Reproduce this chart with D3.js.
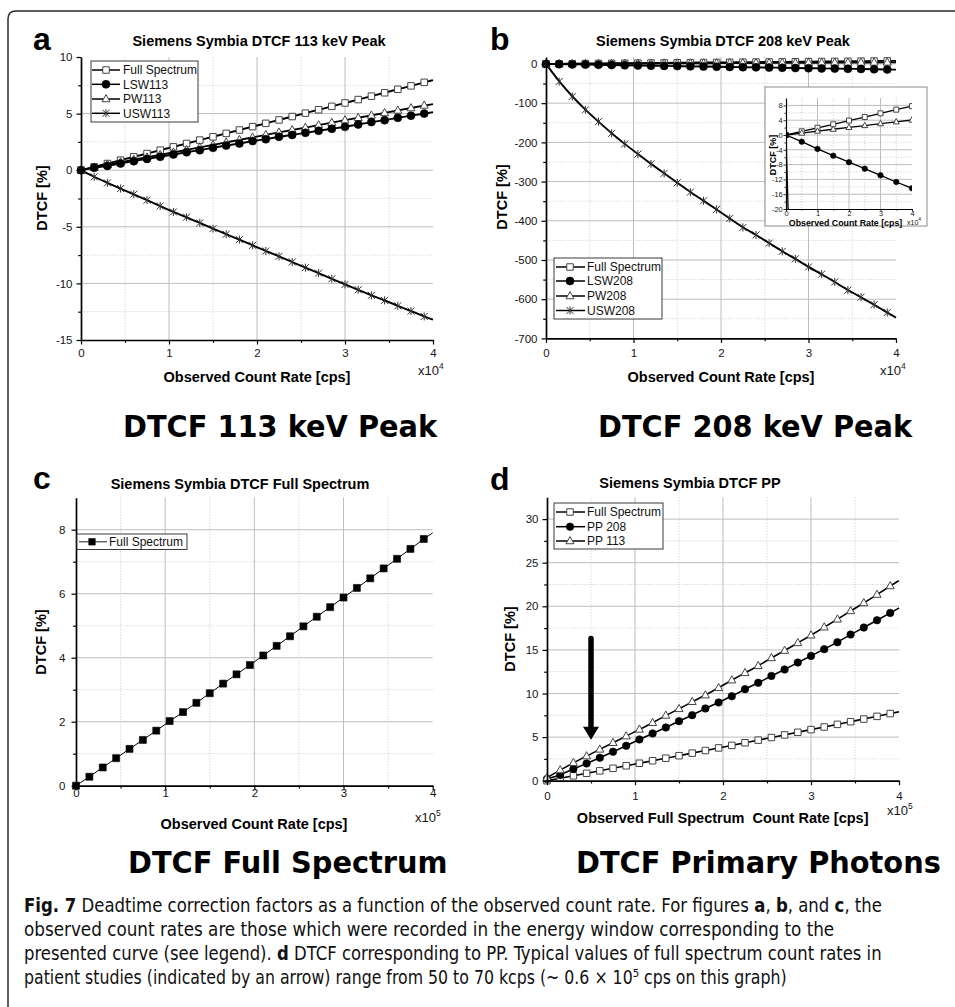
<!DOCTYPE html>
<html><head><meta charset="utf-8">
<script src="https://cdn.jsdelivr.net/npm/d3@7"></script>
<style>
body{margin:0;background:#fff}
svg{display:block}
</style>
</head><body>
<script>
// ---------------- DATA ----------------
// observed count rate (panel a,b: x10^4 cps; panel c,d: x10^5 cps)
const xObs = [0,0.15,0.3,0.45,0.6,0.75,0.9,1.05,1.2,1.35,1.5,1.65,1.8,1.95,2.1,2.25,2.4,2.55,2.7,2.85,3,3.15,3.3,3.45,3.6,3.75,3.9];
const xFitEnd = 4;

// panel a: 113 keV peak
const aFull = [0,0.3,0.59,0.89,1.18,1.47,1.77,2.06,2.36,2.66,2.95,3.25,3.55,3.85,4.14,4.44,4.74,5.04,5.34,5.64,5.94,6.24,6.54,6.84,7.15,7.45,7.76];
const aLSW  = [0,0.21,0.38,0.59,0.8,1.0,1.18,1.39,1.59,1.77,1.98,2.18,2.36,2.57,2.74,2.95,3.12,3.3,3.48,3.66,3.83,4.04,4.25,4.42,4.63,4.82,5.0];
const aPW   = [0,0.25,0.48,0.7,0.92,1.14,1.36,1.57,1.8,2.02,2.24,2.46,2.67,2.9,3.12,3.34,3.55,3.76,3.98,4.2,4.42,4.63,4.84,5.06,5.28,5.49,5.72];
const aUSW  = [0,-0.59,-1.12,-1.62,-2.12,-2.65,-3.16,-3.69,-4.15,-4.66,-5.16,-5.66,-6.13,-6.64,-7.14,-7.61,-8.11,-8.61,-9.09,-9.59,-10.09,-10.56,-11.06,-11.5,-11.98,-12.45,-12.92];
const aFitEnd = {full:7.96, lsw:5.13, pw:5.84, usw:-13.2};

// panel b: 208 keV peak
const bFull = [0,0.3,0.6,0.9,1.19,1.48,1.78,2.07,2.37,2.66,2.96,3.26,3.56,3.86,4.16,4.46,4.76,5.06,5.36,5.66,5.96,6.26,6.56,6.86,7.17,7.47,7.78];
const bLSW  = [0,-0.55,-1.1,-1.65,-2.2,-2.75,-3.3,-3.85,-4.4,-4.95,-5.5,-6.05,-6.6,-7.15,-7.65,-8.15,-8.65,-9.2,-9.7,-10.25,-10.8,-11.3,-11.85,-12.4,-12.9,-13.45,-14.0];
const bPW   = [0,0.15,0.31,0.46,0.61,0.76,0.91,1.06,1.21,1.37,1.52,1.67,1.83,1.98,2.13,2.29,2.44,2.59,2.75,2.9,3.05,3.21,3.36,3.52,3.67,3.83,3.98];
const bUSW  = [0,-45,-83,-117,-147,-177,-204,-230,-255,-279,-303,-327,-349,-371,-394,-417,-436,-457,-478,-497,-518,-536,-556,-577,-595,-614,-634];
const bFitEnd = {full:7.98, lsw:-14.4, pw:4.08, usw:-647};

// panel b inset
const xInset = [0,0.5,1,1.5,2,2.5,3,3.5,4];
const inFull = [0,1.0,1.95,2.9,3.9,4.85,5.85,6.85,7.8];
const inPW   = [0,0.5,1.05,1.55,2.05,2.55,3.05,3.55,4.05];
const inLSW  = [0,-1.8,-3.75,-5.6,-7.35,-9.1,-10.9,-12.7,-14.4];

// panel c: full spectrum
const cFull = [0,0.28,0.57,0.86,1.15,1.43,1.72,2.02,2.3,2.59,2.89,3.19,3.48,3.77,4.07,4.37,4.67,4.98,5.28,5.58,5.88,6.18,6.48,6.79,7.09,7.4,7.71];
const cFitEnd = 7.9;

// panel d: primary photons
const dFull  = [0,0.27,0.56,0.85,1.13,1.42,1.71,2.0,2.29,2.58,2.87,3.16,3.46,3.76,4.05,4.35,4.65,4.95,5.25,5.55,5.86,6.16,6.46,6.77,7.07,7.38,7.7];
const dPP208 = [0.2,0.65,1.34,1.98,2.63,3.32,4.0,4.73,5.42,6.1,6.83,7.52,8.28,8.97,9.69,10.5,11.22,12.02,12.75,13.55,14.31,15.08,15.88,16.76,17.56,18.4,19.24];
const dPP113 = [0.35,1.22,2.06,2.82,3.59,4.35,5.11,5.88,6.64,7.48,8.24,9.05,9.81,10.65,11.53,12.37,13.17,14.08,14.92,15.8,16.68,17.6,18.51,19.47,20.38,21.34,22.33];
const dFitEnd = {full:7.9, pp208:19.8, pp113:22.94};
const dArrow = {x:0.5, from:16.3, to:4.7};

// tick values
const ticks4 = [0,1,2,3,4], minor4 = [0.5,1.5,2.5,3.5];
const aYTicks = [-15,-10,-5,0,5,10], aYMinor = [-12.5,-7.5,-2.5,2.5,7.5];
const bYTicks = [-700,-600,-500,-400,-300,-200,-100,0], bYMinor = [-650,-550,-450,-350,-250,-150,-50];
const cYTicks = [0,2,4,6,8], cYMinor = [1,3,5,7];
const dYTicks = [0,5,10,15,20,25,30], dYMinor = [2.5,7.5,12.5,17.5,22.5,27.5];
const inYTicks = [-20,-16,-12,-8,-4,0,4,8], inYMinor = [-18,-14,-10,-6,-2,2,6];

// ---------------- DRAWING ----------------
const FONT = '"Liberation Sans", Arial, Helvetica, sans-serif';
const svg = d3.select('body').append('svg').attr('width',955).attr('height',1007);

// frame
svg.append('path').attr('d','M8,1007V19Q8,11 16,11H955').attr('fill','none').attr('stroke','#2a2a2a').attr('stroke-width',1.5);

function markerPath(type, s){
  const h = s/2;
  switch(type){
    case 'square': case 'squareFilled': return `M${-h},${-h}H${h}V${h}H${-h}Z`;
    case 'circle': return `M${-h},0A${h},${h} 0 1,0 ${h},0A${h},${h} 0 1,0 ${-h},0Z`;
    case 'triangle': { const t = s*0.9; return `M0,${-t*0.62}L${h},${t*0.38}L${-h},${t*0.38}Z`; }
    case 'star': return `M${-h},${-h}L${h},${h}M${-h},${h}L${h},${-h}M0,${-h*1.15}V${h*1.15}`;
  }
}
function markerStyle(sel, type){
  if(type==='square'||type==='triangle') sel.attr('fill','#fff').attr('stroke','#444').attr('stroke-width',1);
  else if(type==='circle'||type==='squareFilled') sel.attr('fill','#000').attr('stroke','#000').attr('stroke-width',0.6);
  else sel.attr('fill','none').attr('stroke','#333').attr('stroke-width',1);
}

function drawPanel(p){
  const g = svg.append('g');
  const x = d3.scaleLinear().domain(p.xDomain).range([p.left,p.right]);
  const y = d3.scaleLinear().domain(p.yDomain).range([p.bottom,p.top]);
  if(p.box){
    g.append('rect').attr('x',p.box[0]).attr('y',p.box[1]).attr('width',p.box[2]).attr('height',p.box[3])
      .attr('fill','#fff').attr('stroke','#8c8c8c').attr('stroke-width',1);
  }
  const grid = g.append('g');
  const minorStyle = s => s.attr('stroke','#cfcfcf').attr('stroke-width',0.9).attr('stroke-dasharray','1.2,1.6');
  const majorStyle = s => s.attr('stroke','#bdbdbd').attr('stroke-width',1);
  grid.selectAll(null).data(p.xMinorGrid).join('line')
    .attr('x1',d=>x(d)).attr('x2',d=>x(d)).attr('y1',p.top).attr('y2',p.bottom).call(minorStyle);
  grid.selectAll(null).data(p.yMinorGrid).join('line')
    .attr('y1',d=>y(d)).attr('y2',d=>y(d)).attr('x1',p.left).attr('x2',p.right).call(minorStyle);
  grid.selectAll(null).data(p.xGrid).join('line')
    .attr('x1',d=>x(d)).attr('x2',d=>x(d)).attr('y1',p.top).attr('y2',p.bottom).call(majorStyle);
  grid.selectAll(null).data(p.yGrid).join('line')
    .attr('y1',d=>y(d)).attr('y2',d=>y(d)).attr('x1',p.left).attr('x2',p.right).call(majorStyle);

  // clip
  const cid = 'clip'+p.id;
  g.append('clipPath').attr('id',cid).append('rect')
    .attr('x',p.left).attr('y',p.top).attr('width',p.right-p.left).attr('height',p.bottom-p.top);
  const dg = g.append('g').attr('clip-path', p.clip ? `url(#${cid})` : null);

  const line = d3.line().x(d=>x(d[0])).y(d=>y(d[1])).curve(p.curve||d3.curveBasis);
  p.series.forEach(s=>{
    const pts = s.x.map((xv,i)=>[xv,s.y[i]]);
    if(s.end!=null) pts.push([xFitEnd, s.end]);
    dg.append('path').attr('d',line(pts)).attr('fill','none').attr('stroke','#000').attr('stroke-width',p.lineW);
  });
  p.series.forEach(s=>{
    if(!s.marker) return;
    dg.append('g').selectAll('path').data(s.x.map((xv,i)=>[xv,s.y[i]])).join('path')
      .attr('transform',d=>`translate(${x(d[0])},${y(d[1])})`)
      .attr('d',markerPath(s.marker,s.size)).call(markerStyle,s.marker);
  });

  // axes
  const fmt = d => String(d);
  const ax = g.append('g').attr('transform',`translate(0,${p.bottom})`)
    .call(d3.axisBottom(x).tickValues(p.xTicks).tickSize(p.tick).tickSizeOuter(0).tickPadding(p.xPad).tickFormat(fmt));
  const axm = g.append('g').attr('transform',`translate(0,${p.bottom})`)
    .call(d3.axisBottom(x).tickValues(p.xMinor).tickSize(p.tickMinor).tickSizeOuter(0).tickFormat(''));
  const ay = g.append('g').attr('transform',`translate(${p.left},0)`)
    .call(d3.axisLeft(y).tickValues(p.yTicks).tickSize(p.tick).tickSizeOuter(0).tickPadding(p.yPad).tickFormat(fmt));
  const aym = g.append('g').attr('transform',`translate(${p.left},0)`)
    .call(d3.axisLeft(y).tickValues(p.yMinor).tickSize(p.tickMinor).tickSizeOuter(0).tickFormat(''));
  [ax,axm,ay,aym].forEach(a=>{
    a.attr('font-family',FONT).attr('font-size',p.tickFont);
    a.select('.domain').attr('stroke','#000').attr('stroke-width',p.axisW);
    a.selectAll('.tick line').attr('stroke','#000').attr('stroke-width',p.tickW);
    a.selectAll('.tick text').attr('fill','#151515');
  });
  [axm,aym].forEach(a=>a.select('.domain').remove());
  return {x,y,g};
}

function drawLegend(L){
  const g = svg.append('g');
  g.append('rect').attr('x',L.box[0]).attr('y',L.box[1]).attr('width',L.box[2]).attr('height',L.box[3])
    .attr('fill','#fff').attr('stroke','#3a3a3a').attr('stroke-width',1);
  L.items.forEach((it,i)=>{
    const yy = L.rows[i];
    g.append('line').attr('x1',L.lx1).attr('x2',L.lx2).attr('y1',yy).attr('y2',yy)
      .attr('stroke','#000').attr('stroke-width',L.lineW);
    g.append('path').attr('transform',`translate(${L.mx},${yy})`).attr('d',markerPath(it.marker,it.size)).call(markerStyle,it.marker);
    g.append('text').attr('x',L.tx).attr('y',yy).attr('dy','0.36em').attr('font-family',FONT)
      .attr('font-size',L.font).attr('fill','#111').text(it.label);
  });
}

function text(x,y,str,opt){
  const t = svg.append('text').attr('x',x).attr('y',y).attr('font-family',opt.family||FONT)
    .attr('font-size',opt.size).attr('font-weight',opt.weight||'normal').attr('fill',opt.fill||'#000')
    .attr('text-anchor',opt.anchor||'start').style('white-space','pre').text(str);
  if(opt.rotate) t.attr('transform',`rotate(-90,${x},${y})`);
  return t;
}
function x10(x,y,exp,size,sup){
  const t = svg.append('text').attr('x',x).attr('y',y).attr('font-family',FONT).attr('font-size',size).attr('fill','#151515');
  t.append('tspan').text('x10');
  t.append('tspan').attr('dy',-size*0.45).attr('font-size',sup).text(exp);
}

const common = {xDomain:[0,4], xTicks:ticks4, xMinor:minor4, xGrid:[1,2,3], xMinorGrid:minor4,
  tick:4.5, tickMinor:2.8, tickFont:11.5, axisW:1.7, tickW:1.2, yPad:4};

// ---- panel a ----
drawPanel(Object.assign({}, common, {id:'a', left:81, right:433, top:57, bottom:340, yDomain:[-15,10],
  yTicks:aYTicks, yMinor:aYMinor, yGrid:[-10,-5,0,5], yMinorGrid:aYMinor, xPad:4.4, lineW:1.9,
  series:[
    {x:xObs, y:aFull, end:aFitEnd.full, marker:'square', size:6.5},
    {x:xObs, y:aPW, end:aFitEnd.pw, marker:'triangle', size:8},
    {x:xObs, y:aLSW, end:aFitEnd.lsw, marker:'circle', size:8},
    {x:xObs, y:aUSW, end:aFitEnd.usw, marker:'star', size:7}
  ]}));
drawLegend({box:[91,61,107,61], rows:[70,84.3,99,113.3], lx1:92, lx2:120, mx:106, tx:123, font:12, lineW:1.5,
  items:[{label:'Full Spectrum',marker:'square',size:6.5},{label:'LSW113',marker:'circle',size:8},
         {label:'PW113',marker:'triangle',size:8},{label:'USW113',marker:'star',size:7}]});

// ---- panel b ----
drawPanel(Object.assign({}, common, {id:'b', left:546, right:896, top:56.9, bottom:338.4, yDomain:[-700,18],
  yTicks:bYTicks, yMinor:bYMinor, yGrid:[-600,-500,-400,-300,-200,-100,0], yMinorGrid:bYMinor, xPad:6, lineW:1.9,
  series:[
    {x:xObs, y:bFull, end:bFitEnd.full, marker:'square', size:6.5},
    {x:xObs, y:bPW, end:bFitEnd.pw, marker:'triangle', size:8},
    {x:xObs, y:bLSW, end:bFitEnd.lsw, marker:'circle', size:8},
    {x:xObs, y:bUSW, end:bFitEnd.usw, marker:'star', size:7}
  ]}));
drawLegend({box:[554,258,108,61], rows:[267,281,296,310.5], lx1:556, lx2:585, mx:570, tx:587, font:12, lineW:1.5,
  items:[{label:'Full Spectrum',marker:'square',size:6.5},{label:'LSW208',marker:'circle',size:8},
         {label:'PW208',marker:'triangle',size:8},{label:'USW208',marker:'star',size:7}]});

// inset
drawPanel({id:'in', box:[765,87,162,139], left:786, right:912, top:98, bottom:209, xDomain:[0,4], yDomain:[-20,10],
  xTicks:ticks4, xMinor:minor4, xGrid:[1,2,3], xMinorGrid:minor4,
  yTicks:inYTicks, yMinor:inYMinor, yGrid:[-16,-12,-8,-4,0,4,8], yMinorGrid:inYMinor,
  tick:2.5, tickMinor:1.6, tickFont:7.4, axisW:1.2, tickW:0.8, xPad:-1, yPad:0.8, lineW:1.3,
  clip:true, curve:d3.curveLinear,
  series:[
    {x:xObs, y:bUSW, end:bFitEnd.usw, marker:null},
    {x:xInset, y:inFull, marker:'square', size:5},
    {x:xInset, y:inPW, marker:'triangle', size:6},
    {x:xInset, y:inLSW, marker:'circle', size:5.5}
  ]});
text(845.5,226,'Observed Count Rate [cps]',{size:8.8,weight:'bold',anchor:'middle'});
x10(907,224.5,'4',7,5);
text(775.5,155,'DTCF [%]',{size:9,weight:'bold',anchor:'middle',rotate:true});

// ---- panel c ----
drawPanel(Object.assign({}, common, {id:'c', left:76, right:432.7, top:497.7, bottom:785.7, yDomain:[0,9],
  yTicks:cYTicks, yMinor:cYMinor, yGrid:[2,4,6,8], yMinorGrid:cYMinor, xPad:-1.4, yPad:6, lineW:1,
  series:[{x:xObs, y:cFull, end:cFitEnd, marker:'squareFilled', size:7}]}));
drawLegend({box:[77,534,110,15.5], rows:[541.8], lx1:79, lx2:107, mx:92, tx:109, font:12, lineW:0.9,
  items:[{label:'Full Spectrum',marker:'squareFilled',size:6.5}]});

// ---- panel d ----
const pd = drawPanel(Object.assign({}, common, {id:'d', left:547, right:899, top:497.3, bottom:780.7, yDomain:[0,32.5],
  yTicks:dYTicks, yMinor:dYMinor, yGrid:[5,10,15,20,25,30], yMinorGrid:dYMinor, xPad:6.6, lineW:1.6,
  series:[
    {x:xObs, y:dFull, end:dFitEnd.full, marker:'square', size:6.5},
    {x:xObs, y:dPP208, end:dFitEnd.pp208, marker:'circle', size:7.5},
    {x:xObs, y:dPP113, end:dFitEnd.pp113, marker:'triangle', size:8}
  ]}));
drawLegend({box:[554,503,109,46], rows:[512,526.7,541], lx1:556, lx2:585, mx:570, tx:587, font:12, lineW:1.5,
  items:[{label:'Full Spectrum',marker:'square',size:6.5},{label:'PP 208',marker:'circle',size:7.5},
         {label:'PP 113',marker:'triangle',size:8}]});
// arrow
{
  const ax = pd.x(dArrow.x), yTop = pd.y(dArrow.from), yTip = pd.y(dArrow.to);
  svg.append('line').attr('x1',ax).attr('x2',ax).attr('y1',yTop).attr('y2',yTip-11)
    .attr('stroke','#000').attr('stroke-width',5.5).attr('stroke-linecap','round');
  svg.append('path').attr('d',`M${ax-8},${yTip-13}L${ax+8},${yTip-13}L${ax},${yTip}Z`).attr('fill','#000');
}

// ---- titles & labels ----
const titleOpt = {size:14.5, weight:'bold', anchor:'middle'};
text(259,46,'Siemens Symbia DTCF 113 keV Peak',titleOpt);
text(723,46,'Siemens Symbia DTCF 208 keV Peak',titleOpt);
text(240,489,'Siemens Symbia DTCF Full Spectrum',titleOpt);
text(690,488,'Siemens Symbia DTCF PP',titleOpt);

const letterOpt = {size:32, weight:'bold'};
text(33,50,'a',letterOpt); text(490,50,'b',letterOpt);
text(33,489,'c',letterOpt); text(490,490,'d',letterOpt);

text(257,382,'Observed Count Rate [cps]',titleOpt);
text(721,382,'Observed Count Rate [cps]',titleOpt);
text(254,829,'Observed Count Rate [cps]',titleOpt);
text(722.7,823,'Observed Full Spectrum  Count Rate [cps]',titleOpt);

const yOpt = {size:14.5, weight:'bold', anchor:'middle', rotate:true};
text(47,198,'DTCF [%]',yOpt); text(507,197,'DTCF [%]',yOpt);
text(46,642,'DTCF [%]',yOpt); text(515,639,'DTCF [%]',yOpt);

x10(418,375,'4',13,8.5); x10(880,375,'4',13,8.5);
x10(415,822,'5',13,8.5); x10(887,815,'5',13,8.5);

// big subtitles
function big(x,y,str){
  svg.append('text').attr('transform',`translate(${x},${y}) scale(0.93,1)`)
    .attr('font-family','"DejaVu Sans", Verdana, sans-serif').attr('font-weight','bold').attr('font-size',31)
    .attr('fill','#000').text(str);
}
big(123,437,'DTCF 113 keV Peak'); big(598,437,'DTCF 208 keV Peak');
big(128,873,'DTCF Full Spectrum'); big(576,873,'DTCF Primary Photons');

// caption: each line is a row of text pieces, squeezed horizontally to its width
const capFont = '"Liberation Sans Narrow", "DejaVu Sans Condensed", "Liberation Sans", sans-serif';
const capLines = [
  {y:912, w:858, parts:[['Fig. 7',true],[' Deadtime correction factors as a function of the observed count rate. For figures ',false],['a',true],[', ',false],['b',true],[', and ',false],['c',true],[', the',false]]},
  {y:936, w:811, parts:[['observed count rates are those which were recorded in the energy window corresponding to the',false]]},
  {y:960, w:858, parts:[['presented curve (see legend). ',false],['d',true],[' DTCF corresponding to PP. Typical values of full spectrum count rates in',false]]},
  {y:984, w:763, parts:[['patient studies (indicated by an arrow) range from 50 to 70 kcps (~ 0.6 \u00d7 10\u2075 cps on this graph)',false]]}
];
capLines.forEach(L=>{
  const g = svg.append('g');
  let cx = 0;
  L.parts.forEach(pp=>{
    const t = g.append('text').attr('x',cx).attr('y',0).attr('font-family',capFont).attr('font-size',19.5)
      .attr('font-weight',pp[1]?'bold':'normal').attr('fill','#111').style('white-space','pre').text(pp[0]);
    cx += t.node().getComputedTextLength();
  });
  g.attr('transform',`translate(24,${L.y}) scale(${L.w/cx},1)`);
});
</script>
</body></html>
